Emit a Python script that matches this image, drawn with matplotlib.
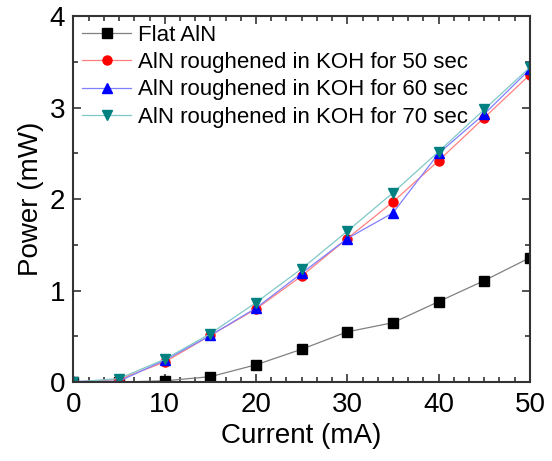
import numpy as np
import matplotlib
matplotlib.use('Agg')
import matplotlib.pyplot as plt
from matplotlib.ticker import MultipleLocator

plt.rcParams['font.family'] = ['Liberation Sans', 'DejaVu Sans']

current = [0, 5, 10, 15, 20, 25, 30, 35, 40, 45, 50]

# output power (mW) for each sample
flat = [0.0, 0.0, 0.015, 0.06, 0.19, 0.36, 0.55, 0.65, 0.88, 1.11, 1.36]
koh50 = [0.0, 0.03, 0.22, 0.51, 0.80, 1.16, 1.57, 1.97, 2.42, 2.89, 3.36]
koh60 = [0.01, 0.01, 0.24, 0.51, 0.81, 1.19, 1.57, 1.85, 2.50, 2.93, 3.42]
koh70 = [0.0, 0.04, 0.25, 0.53, 0.87, 1.24, 1.65, 2.07, 2.52, 2.98, 3.44]

labels = ['Flat AlN',
          'AlN roughened in KOH for 50 sec',
          'AlN roughened in KOH for 60 sec',
          'AlN roughened in KOH for 70 sec']

fig = plt.figure(figsize=(5.52, 4.61), dpi=100)
ax = fig.add_axes([0.133, 0.171, 0.827, 0.794])

series = [flat, koh50, koh60, koh70]
markers = ['s', 'o', '^', 'v']
mcolors = ['black', 'red', 'blue', '#008080']
lcolors = ['#808080', '#ff8080', '#8080ff', '#80c8c8']
for y, lab, m, mc, lc in zip(series, labels, markers, mcolors, lcolors):
    ax.plot(current, y, color=lc, lw=0.9, marker=m, ms=6.5,
            mfc=mc, mec=mc, label=lab)

ax.set_xlim(0, 50)
ax.set_ylim(0, 4)
ax.xaxis.set_major_locator(MultipleLocator(10))
ax.xaxis.set_minor_locator(MultipleLocator(10 / 6))
ax.yaxis.set_major_locator(MultipleLocator(1))
ax.yaxis.set_minor_locator(MultipleLocator(0.5))
ax.tick_params(which='both', direction='in', top=True, right=True,
               color='#333333', width=1.2)
ax.tick_params(which='major', length=6, labelsize=20)
ax.tick_params(axis='x', which='major', pad=7)
ax.tick_params(axis='y', which='major', pad=6)
ax.tick_params(which='minor', length=3.5)
for s in ax.spines.values():
    s.set_linewidth(1.5)
    s.set_color('#333333')

ax.set_xlabel('Current (mA)', fontsize=20, labelpad=4)
ax.set_ylabel('Power (mW)', fontsize=20, labelpad=4)

ax.legend(loc='upper left', frameon=False, fontsize=16, handlelength=2.2,
          handletextpad=0.3, labelspacing=0.28, borderaxespad=0.15,
          borderpad=0.25)

fig.savefig('out.png', dpi=100)
